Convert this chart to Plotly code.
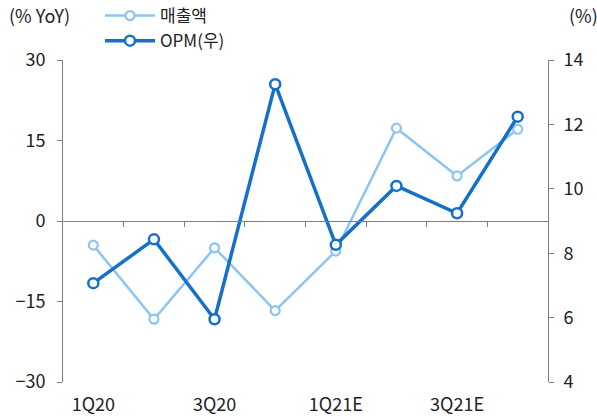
import plotly.graph_objects as go

categories = ["1Q20", "2Q20", "3Q20", "4Q20", "1Q21E", "2Q21E", "3Q21E", "4Q21E"]
tick_labels = ["1Q20", "", "3Q20", "", "1Q21E", "", "3Q21E", ""]
sales_yoy = [-4.5, -18.3, -5.0, -16.7, -5.6, 17.3, 8.4, 17.1]
opm = [7.07, 8.43, 5.95, 13.25, 8.26, 10.09, 9.24, 12.24]

LIGHT = "#8DC4F4"
DARK = "#1470C8"
AXIS = "#7F7F7F"
FONT = "Noto Sans CJK KR, Noto Sans, sans-serif"
FS = 18

xs = list(range(len(categories)))

fig = go.Figure()
fig.add_trace(go.Scatter(
    x=xs, y=sales_yoy, name="매출액", mode="lines+markers",
    line=dict(color=LIGHT, width=2.5),
    marker=dict(symbol="circle", size=9, color="white", line=dict(color=LIGHT, width=2.2)),
    yaxis="y", xaxis="x",
))
fig.add_trace(go.Scatter(
    x=xs, y=opm, name="OPM(우)", mode="lines+markers",
    line=dict(color=DARK, width=3.5),
    marker=dict(symbol="circle", size=10, color="white", line=dict(color=DARK, width=2.5)),
    yaxis="y2", xaxis="x",
))
# invisible trace to enable the zero-line x axis with boundary ticks
fig.add_trace(go.Scatter(x=[-0.5, 7.5], y=[0, 0], mode="lines", line=dict(width=0),
                         showlegend=False, hoverinfo="skip", xaxis="x2", yaxis="y"))

fig.update_layout(
    width=597, height=418,
    margin=dict(l=63, r=49, t=60, b=36, autoexpand=False),
    paper_bgcolor="white", plot_bgcolor="white",
    font=dict(family=FONT, size=FS, color="#222222"),
    showlegend=True,
    legend=dict(x=(100 - 63) / 485, y=1 + 62 / 322, xref="paper", yref="paper",
                xanchor="left", yanchor="top", itemwidth=50,
                bgcolor="rgba(0,0,0,0)", font=dict(size=17), tracegroupgap=0),
    xaxis=dict(range=[-0.5, 7.5], tickmode="array", tickvals=xs, ticktext=tick_labels,
               showline=False, showgrid=False, zeroline=False, ticks="outside",
               ticklen=6, tickcolor="rgba(0,0,0,0)", fixedrange=True),
    xaxis2=dict(range=[-0.5, 7.5], overlaying="x", anchor="free", position=0.5,
                tickmode="array", tickvals=[0.5 + i for i in range(7)],
                showticklabels=False, ticks="outside", ticklen=5, tickcolor=AXIS,
                showline=True, linecolor=AXIS, linewidth=1, showgrid=False, zeroline=False),
    yaxis=dict(range=[-30, 30], tickmode="array", tickvals=[-30, -15, 0, 15, 30],
               showline=True, linecolor=AXIS, linewidth=1, ticks="outside", ticklen=5,
               tickcolor=AXIS, showgrid=False, zeroline=False, ticklabelstandoff=8),
    yaxis2=dict(range=[4, 14], tickmode="array", tickvals=[4, 6, 8, 10, 12, 14],
                overlaying="y", side="right", showline=True, linecolor=AXIS, linewidth=1,
                ticks="outside", ticklen=5, tickcolor=AXIS, showgrid=False, zeroline=False,
                ticklabelstandoff=6),
)

fig.add_annotation(text="(% YoY)", xref="paper", yref="paper", x=-0.115, y=1.186,
                   xanchor="left", yanchor="top", showarrow=False, font=dict(size=FS))
fig.add_annotation(text="(%)", xref="paper", yref="paper", x=1.04, y=1.186,
                   xanchor="left", yanchor="top", showarrow=False, font=dict(size=FS))

fig.write_html("out.html", config={"displayModeBar": False},
               post_script="document.body.style.margin='0';")
